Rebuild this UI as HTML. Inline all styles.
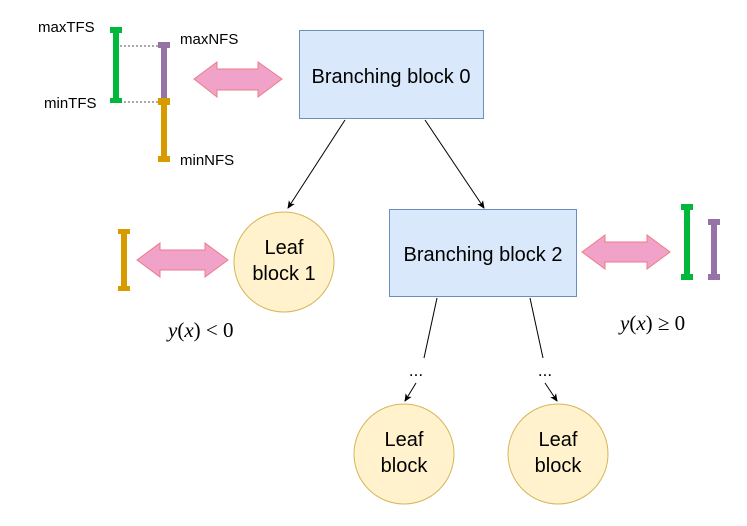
<!DOCTYPE html>
<html><head><style>body{margin:0;background:#fff}</style></head><body>
<svg width="747" height="521" xmlns="http://www.w3.org/2000/svg" font-family="Liberation Sans, sans-serif">
<defs><marker id="a" markerWidth="8" markerHeight="8" refX="7" refY="4" orient="auto" markerUnits="userSpaceOnUse"><path d="M0,0.5 L8,4 L0,7.5 L2,4z" fill="#000"/></marker></defs>
<line x1="120" y1="46" x2="160" y2="46" stroke="#555" stroke-dasharray="2,2"/>
<line x1="120" y1="102" x2="160" y2="102" stroke="#555" stroke-dasharray="2,2"/>
<g fill="#00b83a"><rect x="113" y="28" width="6" height="74"/><rect x="110" y="27" width="12" height="6"/><rect x="110" y="98" width="12" height="5"/></g>
<g fill="#9673a6"><rect x="161" y="44" width="6" height="58"/><rect x="158" y="42" width="12" height="6"/></g>
<g fill="#d79b00"><rect x="161" y="100" width="6" height="60"/><rect x="158" y="98" width="12" height="7"/><rect x="158" y="156" width="12" height="6"/></g>
<g font-size="15" fill="#000"><text x="38" y="32">maxTFS</text><text x="180" y="44">maxNFS</text><text x="44" y="108">minTFS</text><text x="180" y="165">minNFS</text></g>
<g fill="#f0a2c8" stroke="#ee7c86" stroke-width="1">
<path d="M194,79 L217,62 L217,69 L258,69 L258,62 L282,79 L258,97 L258,90 L217,90 L217,97z"/>
<path d="M137,260 L160,243 L160,250 L205,250 L205,243 L228,260 L205,277 L205,270 L160,270 L160,277z"/>
<path d="M582,252 L605,235 L605,242 L647,242 L647,235 L670,252 L647,269 L647,262 L605,262 L605,269z"/>
</g>
<rect x="299.5" y="30.5" width="184" height="88" fill="#dae8fc" stroke="#6c8ebf"/>
<text x="391" y="83" font-size="20" text-anchor="middle">Branching block 0</text>
<rect x="389.5" y="209.5" width="187" height="87" fill="#dae8fc" stroke="#6c8ebf"/>
<text x="483" y="261" font-size="20" text-anchor="middle">Branching block 2</text>
<g fill="#fff2cc" stroke="#d6b656"><circle cx="284" cy="262" r="50"/><circle cx="404" cy="454" r="50"/><circle cx="558" cy="454" r="50"/></g>
<g font-size="20" text-anchor="middle"><text x="284" y="254">Leaf</text><text x="284" y="280">block 1</text>
<text x="404" y="446">Leaf</text><text x="404" y="472">block</text><text x="558" y="446">Leaf</text><text x="558" y="472">block</text></g>
<g stroke="#000" stroke-width="1" marker-end="url(#a)">
<line x1="345" y1="120" x2="288" y2="208"/><line x1="425" y1="120" x2="484" y2="208"/>
<line x1="416" y1="383" x2="405" y2="401"/><line x1="545" y1="383" x2="557" y2="401"/></g>
<g stroke="#000"><line x1="437" y1="298" x2="424" y2="358"/><line x1="530" y1="298" x2="543" y2="358"/></g>
<g font-size="17" text-anchor="middle"><text x="416" y="376">...</text><text x="545" y="376">...</text></g>
<g fill="#d79b00"><rect x="121" y="231" width="6" height="59"/><rect x="118" y="229" width="12" height="5"/><rect x="118" y="286" width="12" height="5"/></g>
<g fill="#00b83a"><rect x="684" y="205" width="6" height="75"/><rect x="681" y="204" width="12" height="6"/><rect x="681" y="274" width="12" height="6"/></g>
<g fill="#9673a6"><rect x="711" y="220" width="6" height="59"/><rect x="708" y="219" width="12" height="6"/><rect x="708" y="274" width="12" height="6"/></g>
<g font-family="Liberation Serif, serif" font-size="21"><text x="168" y="337"><tspan font-style="italic">y</tspan>(<tspan font-style="italic">x</tspan>) &lt; 0</text>
<text x="620" y="330"><tspan font-style="italic">y</tspan>(<tspan font-style="italic">x</tspan>) ≥ 0</text></g>
</svg>
</body></html>
